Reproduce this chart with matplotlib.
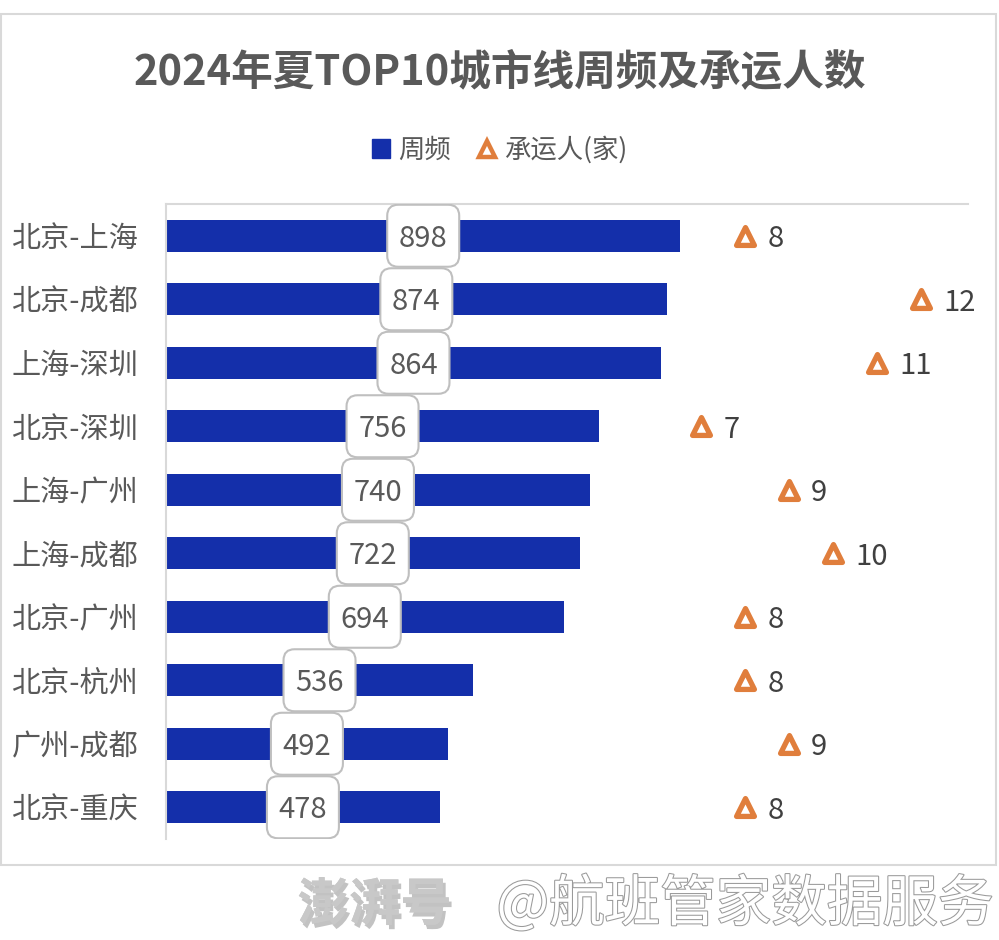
import matplotlib
matplotlib.use("Agg")
import matplotlib.pyplot as plt
import matplotlib.patches as mpatches
import matplotlib.patheffects as pe
import matplotlib.transforms as mtrans
from matplotlib.lines import Line2D

plt.rcParams['font.family'] = ['Noto Sans CJK SC', 'DejaVu Sans']

# data (top to bottom as in the picture)
routes = ["北京-上海", "北京-成都", "上海-深圳", "北京-深圳", "上海-广州",
          "上海-成都", "北京-广州", "北京-杭州", "广州-成都", "北京-重庆"]
weekly_freq = [898, 874, 864, 756, 740, 722, 694, 536, 492, 478]
carriers = [8, 12, 11, 7, 9, 10, 8, 8, 9, 8]

BAR = "#142FAA"
ORANGE = "#E07E3C"
TXT = "#595959"
GRID = "#D9D9D9"

fig = plt.figure(figsize=(9.99, 9.4), dpi=100)

# outer chart border
fig.patches.append(mpatches.Rectangle((0.001, 1 - 865 / 940), 0.996, (865 - 14) / 940,
                                      transform=fig.transFigure, fill=False,
                                      edgecolor=GRID, lw=1.5))

ax = fig.add_axes([166 / 999, 1 - 839 / 940, (968 - 166) / 999, (839 - 204) / 940])
ypos = list(range(len(routes)))
ax.barh(ypos, weekly_freq, height=0.5, color=BAR, zorder=2)
ax.set_xlim(0, 1400)
ax.set_ylim(len(routes) - 0.5, -0.5)
ax.set_yticks(ypos)
ax.set_yticklabels(routes, fontsize=21, color=TXT)
ax.tick_params(axis='y', length=0, pad=20)
ax.set_xticks([])
for s in ["right", "bottom"]:
    ax.spines[s].set_visible(False)
for s in ["left", "top"]:
    ax.spines[s].set_color(GRID)
    ax.spines[s].set_linewidth(1.5)

# value labels in rounded boxes (box size in inches, anchored at bar middle)
for y, v in zip(ypos, weekly_freq):
    tr = fig.dpi_scale_trans + mtrans.ScaledTranslation(v / 2, y, ax.transData)
    box = mpatches.FancyBboxPatch((-0.36, -0.31), 0.72, 0.62,
                                  boxstyle="round,pad=0,rounding_size=0.11",
                                  fc="white", ec="#BFBFBF", lw=1.5, transform=tr, zorder=4)
    ax.add_patch(box)
    ax.annotate(str(v), (v / 2, y), xytext=(0, -2), textcoords="offset points",
                ha="center", va="center", fontsize=21, color=TXT, zorder=5)

# carriers on a secondary x axis
ax2 = ax.twiny()
ax2.set_xlim(-5.16, 13.07)
ax2.set_ylim(len(routes) - 0.5, -0.5)
ax2.scatter(carriers, ypos, marker="^", s=165, facecolor="white", edgecolor=ORANGE,
            linewidth=3.8, zorder=4)
for y, c in zip(ypos, carriers):
    ax2.annotate(str(c), (c, y), xytext=(16, -2.5), textcoords="offset points",
                 ha="left", va="center", fontsize=21, color="#404040")
ax2.set_xticks([])
for s in ax2.spines.values():
    s.set_visible(False)

fig.text(0.5, 1 - 72 / 940, "2024年夏TOP10城市线周频及承运人数", ha="center", va="center",
         fontsize=30, fontweight="bold", color=TXT)

handles = [mpatches.Patch(color=BAR),
           Line2D([], [], marker="^", ls="none", markersize=12, markerfacecolor="white",
                  markeredgecolor=ORANGE, markeredgewidth=3.2)]
fig.legend(handles, ["周频", "承运人(家)"], loc="center", bbox_to_anchor=(0.5, 1 - 150 / 940),
           ncol=2, frameon=False, fontsize=19, labelcolor=TXT, handlelength=0.7,
           handletextpad=0.3, columnspacing=1.0)

# watermark
fig.text(0.375, 1 - 905 / 940, "澎湃号", ha="center", va="center", fontsize=37,
         fontweight="bold", color="#C8C8C8",
         path_effects=[pe.withSimplePatchShadow(offset=(2, -3), shadow_rgbFace="#9A9A9A", alpha=0.6),
                       pe.Normal()])
fig.text(0.497, 1 - 905 / 940, "@航班管家数据服务", ha="left", va="center", fontsize=40,
         color="white", path_effects=[pe.withStroke(linewidth=1.5, foreground="#9A9A9A")])

fig.savefig("out.png", dpi=100)
